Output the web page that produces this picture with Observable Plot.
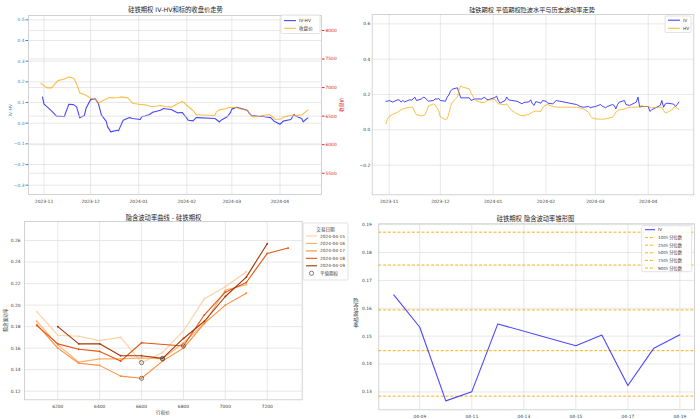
<!DOCTYPE html>
<html><head><meta charset="utf-8">
<script src="https://cdn.jsdelivr.net/npm/d3@7"></script>
<script src="https://cdn.jsdelivr.net/npm/@observablehq/plot@0.6"></script>
<style>
body{margin:0;background:#fff;}
#root{position:relative;width:700px;height:419px;overflow:hidden;background:#fff;}
</style>
</head><body><div id="root"></div>
<script>
// ---------- Panel 1: IV-HV and underlying close ----------
const ivhvDates = ["2023-10-31","2023-11-01","2023-11-03","2023-11-06","2023-11-09","2023-11-13","2023-11-14","2023-11-17","2023-11-20","2023-11-22","2023-11-24","2023-11-27","2023-11-28",
 "2023-12-01","2023-12-04","2023-12-06","2023-12-08","2023-12-11","2023-12-12","2023-12-14","2023-12-18","2023-12-19","2023-12-21","2023-12-22","2023-12-26","2023-12-28",
 "2024-01-02","2024-01-03","2024-01-05","2024-01-08","2024-01-10","2024-01-15","2024-01-17","2024-01-19","2024-01-22","2024-01-24","2024-01-26","2024-01-29","2024-01-30",
 "2024-02-01","2024-02-02","2024-02-05","2024-02-07","2024-02-08","2024-02-19","2024-02-20","2024-02-22","2024-02-23","2024-02-27","2024-02-29",
 "2024-03-01","2024-03-04","2024-03-07","2024-03-11","2024-03-12","2024-03-14","2024-03-15","2024-03-19","2024-03-21","2024-03-22","2024-03-26","2024-03-28",
 "2024-04-01","2024-04-02","2024-04-03","2024-04-08","2024-04-10","2024-04-11","2024-04-15","2024-04-16","2024-04-17","2024-04-19"];
const ivhvValues = [0.127,0.092,0.079,0.058,0.034,0.032,0.031,0.092,0.090,0.079,0.026,0.037,0.071,
 0.114,0.118,0.095,0.039,0.010,-0.018,-0.042,-0.034,-0.037,-0.002,0.014,0.027,0.023,
 0.018,0.031,0.035,0.042,0.053,0.063,0.071,0.069,0.066,0.058,0.050,0.052,0.043,
 0.024,0.014,0.011,0.027,0.027,0.023,0.018,0.006,0.014,0.031,0.050,
 0.068,0.077,0.071,0.063,0.050,0.034,0.037,0.032,0.034,0.031,0.027,0.011,
 -0.005,0.002,0.010,0.018,0.042,0.035,0.023,0.006,0.014,0.026];
const priceDates = ["2023-10-30","2023-11-01","2023-11-03","2023-11-06","2023-11-08","2023-11-10","2023-11-14","2023-11-17","2023-11-20","2023-11-21","2023-11-23","2023-11-24","2023-11-27","2023-11-29",
 "2023-12-01","2023-12-04","2023-12-06","2023-12-08","2023-12-11","2023-12-13","2023-12-15","2023-12-19","2023-12-21","2023-12-25","2023-12-26","2023-12-28",
 "2024-01-02","2024-01-03","2024-01-05","2024-01-09","2024-01-12","2024-01-15","2024-01-18","2024-01-22","2024-01-25","2024-01-29","2024-01-30",
 "2024-02-01","2024-02-05","2024-02-07","2024-02-08","2024-02-19","2024-02-20","2024-02-22","2024-02-26","2024-02-28",
 "2024-03-04","2024-03-06","2024-03-11","2024-03-13","2024-03-15","2024-03-18","2024-03-21","2024-03-25","2024-03-27","2024-03-29",
 "2024-04-02","2024-04-03","2024-04-08","2024-04-10","2024-04-12","2024-04-15","2024-04-17","2024-04-19"];
const priceValues = [7076,7035,6994,6994,7064,7122,7151,7186,7169,7122,6994,6907,6878,6849,
 6814,6791,6727,6756,6802,6826,6820,6826,6837,6820,6791,6727,
 6703,6703,6698,6669,6674,6686,6669,6657,6703,6756,6744,
 6686,6599,6523,6523,6512,6570,6610,6628,6651,
 6651,6628,6599,6529,6483,6494,6512,6529,6494,6442,
 6453,6483,6512,6512,6512,6523,6564,6610];
const monthTicks = ["2023-11-01","2023-12-01","2024-01-01","2024-02-01","2024-03-01","2024-04-01"];
const ivhvTicks = [-0.3,-0.2,-0.1,0,0.1,0.2,0.3,0.4,0.5];
const priceTicks = [5500,6000,6500,7000,7500,8000];

// ---------- Panel 2: ATM IV vs HV ----------
const ivDates = ["2023-10-30","2023-10-31","2023-11-01","2023-11-03","2023-11-06","2023-11-07","2023-11-08","2023-11-09","2023-11-10","2023-11-13","2023-11-14","2023-11-15","2023-11-16","2023-11-17","2023-11-20","2023-11-21","2023-11-22","2023-11-24","2023-11-27","2023-11-28","2023-11-29","2023-11-30",
 "2023-12-01","2023-12-04","2023-12-05","2023-12-06","2023-12-07","2023-12-08","2023-12-11","2023-12-12","2023-12-13","2023-12-15","2023-12-18","2023-12-19","2023-12-21","2023-12-22","2023-12-25","2023-12-27","2023-12-28","2023-12-29",
 "2024-01-02","2024-01-03","2024-01-04","2024-01-05","2024-01-08","2024-01-09","2024-01-10","2024-01-12","2024-01-15","2024-01-16","2024-01-18","2024-01-19","2024-01-22","2024-01-23","2024-01-24","2024-01-25","2024-01-26","2024-01-29","2024-01-30",
 "2024-02-01","2024-02-02","2024-02-05","2024-02-07","2024-02-08","2024-02-19","2024-02-21","2024-02-23","2024-02-26","2024-02-27","2024-02-28",
 "2024-03-01","2024-03-04","2024-03-05","2024-03-07","2024-03-08","2024-03-11","2024-03-12","2024-03-13","2024-03-14","2024-03-15","2024-03-18","2024-03-19","2024-03-21","2024-03-22","2024-03-25","2024-03-26","2024-03-27","2024-03-28","2024-03-29",
 "2024-04-01","2024-04-02","2024-04-03","2024-04-08","2024-04-09","2024-04-10","2024-04-11","2024-04-12","2024-04-15","2024-04-16","2024-04-17","2024-04-18","2024-04-19"];
const ivValues = [0.162,0.162,0.166,0.157,0.170,0.168,0.157,0.166,0.158,0.170,0.168,0.174,0.185,0.166,0.175,0.185,0.181,0.162,0.166,0.175,0.174,0.177,
 0.166,0.162,0.185,0.198,0.219,0.230,0.238,0.208,0.181,0.181,0.181,0.166,0.174,0.175,0.174,0.185,0.174,0.170,
 0.183,0.191,0.166,0.151,0.166,0.185,0.170,0.166,0.162,0.157,0.147,0.155,0.158,0.170,0.147,0.138,0.160,0.151,0.166,
 0.162,0.151,0.147,0.166,0.164,0.143,0.132,0.128,0.132,0.125,0.128,
 0.132,0.143,0.134,0.125,0.132,0.143,0.138,0.119,0.143,0.157,0.166,0.143,0.138,0.142,0.157,0.185,0.128,0.132,0.132,
 0.132,0.104,0.113,0.138,0.166,0.128,0.147,0.151,0.147,0.145,0.132,0.143,0.157];
const hvDates = ["2023-10-30","2023-10-31","2023-11-01","2023-11-03","2023-11-06","2023-11-09","2023-11-13","2023-11-14","2023-11-15","2023-11-16","2023-11-17","2023-11-20","2023-11-22","2023-11-23","2023-11-24","2023-11-27","2023-11-28","2023-11-30",
 "2023-12-01","2023-12-04","2023-12-05","2023-12-06","2023-12-07","2023-12-08","2023-12-11","2023-12-12","2023-12-13","2023-12-14","2023-12-18","2023-12-19","2023-12-21","2023-12-22","2023-12-25","2023-12-27","2023-12-28","2023-12-29",
 "2024-01-02","2024-01-03","2024-01-04","2024-01-08","2024-01-09","2024-01-10","2024-01-12","2024-01-15","2024-01-17","2024-01-19","2024-01-22","2024-01-24","2024-01-26","2024-01-29","2024-01-30","2024-01-31",
 "2024-02-02","2024-02-05","2024-02-08","2024-02-19","2024-02-23","2024-02-26","2024-02-27","2024-02-28",
 "2024-03-01","2024-03-04","2024-03-05","2024-03-07","2024-03-11","2024-03-12","2024-03-13","2024-03-15","2024-03-18","2024-03-20","2024-03-22","2024-03-25","2024-03-27","2024-03-28","2024-03-29",
 "2024-04-01","2024-04-02","2024-04-03","2024-04-08","2024-04-09","2024-04-10","2024-04-11","2024-04-12","2024-04-15","2024-04-16","2024-04-17","2024-04-18","2024-04-19"];
const hvValues = [0.034,0.062,0.075,0.087,0.100,0.119,0.128,0.128,0.125,0.100,0.085,0.079,0.085,0.109,0.134,0.147,0.140,0.109,
 0.072,0.058,0.062,0.094,0.132,0.157,0.185,0.226,0.249,0.242,0.232,0.208,0.175,0.166,0.155,0.155,0.162,0.168,
 0.172,0.160,0.147,0.142,0.147,0.132,0.109,0.091,0.081,0.081,0.087,0.100,0.106,0.104,0.123,0.136,
 0.143,0.132,0.128,0.128,0.119,0.100,0.081,0.068,
 0.062,0.060,0.060,0.062,0.072,0.081,0.100,0.113,0.117,0.125,0.128,0.128,0.132,0.138,0.132,
 0.132,0.128,0.125,0.128,0.128,0.109,0.096,0.098,0.113,0.128,0.132,0.123,0.115];
const volTicks = [-0.2,0,0.2,0.4,0.6];

// ---------- Panel 3: IV smile ----------
const strikes = [6100,6200,6300,6400,6500,6600,6700,6800,6900,7000,7100,7200,7300];
const smileDates = ["2024-04-15","2024-04-16","2024-04-17","2024-04-18","2024-04-19"];
const smile0415 = [0.194,0.172,0.171,0.167,0.170,0.1465,0.156,0.176,0.206,0.217,0.231,null,null];
const smile0416 = [0.185,0.163,0.147,0.150,0.150,0.151,0.150,0.165,0.183,0.214,0.219,null,null];
const smile0417 = [0.182,0.160,0.146,0.144,0.134,0.132,0.148,0.160,0.183,0.200,0.211,null,null];
const smile0418 = [0.181,0.164,0.159,0.157,0.148,0.165,null,0.162,0.191,0.212,0.221,0.248,0.253];
const smile0419 = [null,0.180,0.164,0.164,0.153,0.153,0.1505,0.169,0.185,0.208,0.226,0.257,null];
const atmStrikes = [6600,6700,6600,6800,6700];
const atmIV = [0.1465,0.150,0.132,0.162,0.1505];
const smileColors = ["#fdd0a2","#fdae6b","#fd8d3c","#e6550d","#a63603"];
const strikeTicks = [6200,6400,6600,6800,7000,7200];
const smileTicks = [0.12,0.14,0.16,0.18,0.20,0.22,0.24,0.26];

// ---------- Panel 4: IV cone ----------
const coneDates = ["2024-04-08","2024-04-09","2024-04-10","2024-04-11","2024-04-12","2024-04-15","2024-04-16","2024-04-17","2024-04-18","2024-04-19"];
const coneIV = [0.1648,0.1532,0.1268,0.1301,0.1544,0.1466,0.1504,0.1323,0.1457,0.1505];
const quantileNames = ["10th 分位数","25th 分位数","50th 分位数","75th 分位数","90th 分位数"];
const quantileValues = [0.1285,0.1448,0.1594,0.1755,0.1873];
const coneTicks = ["2024-04-09","2024-04-11","2024-04-13","2024-04-15","2024-04-17","2024-04-19"];
const coneYTicks = [0.13,0.14,0.15,0.16,0.17,0.18,0.19];

// ---------- helpers ----------
const FONT = '"DejaVu Sans","Noto Sans CJK SC",sans-serif';
const GRID = "#dddddd", FRAME = "#c8c8c8", TXT = "#3a3a3a", FS = 4.4;
const root = document.getElementById("root");
const D = s => new Date(s + "T00:00:00Z");
const baseStyle = {fontFamily: FONT, fontSize: FS + "px", background: "transparent", overflow: "visible", color: TXT};
function add(node, left, top) {
  node.style.position = "absolute"; node.style.left = left + "px"; node.style.top = top + "px";
  node.style.maxWidth = "none";
  root.appendChild(node);
}
const grid = {stroke: GRID, strokeOpacity: 1, strokeWidth: 0.7};

// Panel 1
const timeDomain = [new Date("2023-10-22T00:00:00Z"), new Date("2024-04-27T18:00:00Z")];
const ivhvRows = ivhvDates.map((d, i) => ({date: D(d), v: ivhvValues[i]}));
const priceRows = priceDates.map((d, i) => ({date: D(d), v: priceValues[i]}));
const mTicks = monthTicks.map(D);
const p1dims = {width: 350, height: 205, marginLeft: 28, marginRight: 29, marginTop: 15, marginBottom: 11};
const p1 = Plot.plot({
  ...p1dims, style: baseStyle,
  x: {type: "utc", domain: timeDomain},
  y: {domain: [-0.345, 0.521]},
  marks: [
    Plot.gridX(mTicks, grid),
    Plot.gridY(ivhvTicks, grid),
    Plot.frame({stroke: FRAME, strokeWidth: 0.8}),
    Plot.line(ivhvRows, {x: "date", y: "v", stroke: "blue", strokeOpacity: 0.72, strokeWidth: 1.1}),
    Plot.axisY(ivhvTicks, {tickFormat: ".1f", color: "#3f7fc0", tickSize: 2.5, tickPadding: 1.5, fontSize: FS, label: null}),
    Plot.axisX(mTicks, {tickFormat: "%Y-%m", tickSize: 0, tickPadding: 5, fontSize: FS, label: null, color: TXT})
  ]
});
add(p1, 0, 0);
const p1b = Plot.plot({
  ...p1dims, style: baseStyle,
  x: {type: "utc", domain: timeDomain, axis: null},
  y: {domain: [5128, 8262]},
  marks: [
    Plot.gridY(priceTicks, grid),
    Plot.line(priceRows, {x: "date", y: "v", stroke: "orange", strokeOpacity: 0.72, strokeWidth: 1.1}),
    Plot.axisY(priceTicks, {anchor: "right", tickFormat: "d", color: "#d62728", tickSize: 2.5, tickPadding: 1.5, fontSize: FS, label: null})
  ]
});
add(p1b, 0, 0);

// Panel 2
const ivRows = ivDates.map((d, i) => ({date: D(d), v: ivValues[i]}));
const hvRows = hvDates.map((d, i) => ({date: D(d), v: hvValues[i]}));
const p2 = Plot.plot({
  width: 350, height: 205, marginLeft: 21.7, marginRight: 6.7, marginTop: 14, marginBottom: 10.7,
  style: baseStyle,
  x: {type: "utc", domain: timeDomain},
  y: {domain: [-0.368, 0.653]},
  marks: [
    Plot.gridX(mTicks, grid),
    Plot.gridY(volTicks, grid),
    Plot.frame({stroke: FRAME, strokeWidth: 0.8}),
    Plot.line(ivRows, {x: "date", y: "v", stroke: "blue", strokeOpacity: 0.72, strokeWidth: 1.0}),
    Plot.line(hvRows, {x: "date", y: "v", stroke: "orange", strokeOpacity: 0.72, strokeWidth: 1.0}),
    Plot.axisY(volTicks, {tickFormat: ".1f", tickSize: 0, tickPadding: 2, fontSize: FS, label: null, color: TXT}),
    Plot.axisX(mTicks, {tickFormat: "%Y-%m", tickSize: 0, tickPadding: 5, fontSize: FS, label: null, color: TXT})
  ]
});
add(p2, 350, 0);

// Panel 3
const smileSeries = [smile0415, smile0416, smile0417, smile0418, smile0419];
const smileRows = [];
smileSeries.forEach((arr, k) => arr.forEach((v, i) => { if (v != null) smileRows.push({date: smileDates[k], strike: strikes[i], iv: v}); }));
const atmRows = smileDates.map((d, i) => ({date: d, strike: atmStrikes[i], iv: atmIV[i]}));
const p3 = Plot.plot({
  width: 350, height: 214, marginLeft: 24, marginRight: 48.3, marginTop: 16, marginBottom: 19.7,
  style: baseStyle,
  x: {domain: [6041, 7367]},
  y: {domain: [0.112, 0.2777]},
  color: {domain: smileDates, range: smileColors},
  marks: [
    Plot.gridX(strikeTicks, grid),
    Plot.gridY(smileTicks, grid),
    Plot.frame({stroke: FRAME, strokeWidth: 0.8}),
    Plot.line(smileRows, {x: "strike", y: "iv", z: "date", stroke: "date", strokeWidth: 1.1}),
    Plot.dot(smileRows, {x: "strike", y: "iv", fill: "date", r: 0.9}),
    Plot.dot(atmRows, {x: "strike", y: "iv", r: 2.1, stroke: "#4a4a4a", strokeWidth: 0.7, fill: "none"}),
    Plot.axisY(smileTicks, {tickFormat: ".2f", tickSize: 0, tickPadding: 4, fontSize: FS, label: null, color: TXT}),
    Plot.axisX(strikeTicks, {tickFormat: "d", tickSize: 0, tickPadding: 5, fontSize: FS, label: null, color: TXT})
  ]
});
add(p3, 0, 205);

// Panel 4
const coneRows = coneDates.map((d, i) => ({date: D(d), v: coneIV[i]}));
const cTicks = coneTicks.map(D);
const p4 = Plot.plot({
  width: 350, height: 214, marginLeft: 28.3, marginRight: 6, marginTop: 18.3, marginBottom: 9.7,
  style: baseStyle,
  x: {type: "utc", domain: [new Date("2024-04-07T10:10:00Z"), new Date("2024-04-19T13:30:00Z")]},
  y: {domain: [0.1236, 0.1903]},
  marks: [
    Plot.gridX(cTicks, grid),
    Plot.gridY(coneYTicks, grid),
    Plot.frame({stroke: FRAME, strokeWidth: 0.8}),
    Plot.ruleY(quantileValues, {stroke: "#f2a900", strokeWidth: 0.9, strokeDasharray: "3,1.8"}),
    Plot.line(coneRows, {x: "date", y: "v", stroke: "blue", strokeOpacity: 0.72, strokeWidth: 1.1}),
    Plot.axisY(coneYTicks, {tickFormat: ".2f", tickSize: 0, tickPadding: 7, fontSize: FS, label: null, color: TXT}),
    Plot.axisX(cTicks, {tickFormat: "%m-%d", tickSize: 0, tickPadding: 5, fontSize: FS, label: null, color: TXT})
  ]
});
add(p4, 350, 205);

// ---------- overlay: titles, axis labels, legends ----------
const ov = d3.create("svg").attr("width", 700).attr("height", 419)
  .style("position", "absolute").style("left", "0px").style("top", "0px")
  .style("font-family", FONT);
function text(x, y, s, o = {}) {
  const t = ov.append("text").attr("x", x).attr("y", y).text(s)
    .attr("font-size", o.size || FS).attr("fill", o.fill || TXT)
    .attr("text-anchor", o.anchor || "middle").attr("dominant-baseline", "central");
  if (o.rotate) t.attr("transform", `rotate(${o.rotate},${x},${y})`);
  return t;
}
text(175.5, 9.2, "硅铁期权 IV-HV和标的收盘价走势", {size: 6.3, fill: "#222"});
text(532, 9.2, "硅铁期权 平值期权隐波水平与历史波动率走势", {size: 6.2, fill: "#222"});
text(163.5, 217, "隐含波动率曲线 - 硅铁期权", {size: 6.3, fill: "#222"});
text(535.5, 218.3, "硅铁期权 隐含波动率锥形图", {size: 6.3, fill: "#222"});

text(10.5, 110, "IV-HV", {size: 4.6, fill: "#3f7fc0", rotate: -90});
text(341, 105, "收盘价", {size: 4.8, fill: "#d62728", rotate: -90});
text(5, 320, "隐含波动率", {size: 4.6, rotate: -90});
text(163, 412, "行权价", {size: 4.6});
["隐","含","波","动","率"].forEach((c, i) => text(356, 301 + i * 6, c, {size: 5.4}));

function legendBox(x, y, w, h) {
  ov.append("rect").attr("x", x).attr("y", y).attr("width", w).attr("height", h).attr("rx", 1.2)
    .attr("fill", "white").attr("fill-opacity", 0.85).attr("stroke", "#d0d0d0").attr("stroke-width", 0.6);
}
function legendLine(x1, x2, y, color, o = {}) {
  ov.append("line").attr("x1", x1).attr("x2", x2).attr("y1", y).attr("y2", y)
    .attr("stroke", color).attr("stroke-width", o.w || 1.1).attr("stroke-opacity", o.op || 1)
    .attr("stroke-dasharray", o.dash || null);
}
// Panel 1 legend
legendBox(281, 15, 39, 18.5);
legendLine(284, 296, 20.6, "blue", {op: 0.72});
text(299, 20.6, "IV-HV", {anchor: "start", size: 4.4});
legendLine(284, 296, 28.3, "orange", {op: 0.72});
text(299, 28.3, "收盘价", {anchor: "start", size: 4.6});
// Panel 2 legend
legendBox(665, 16, 26, 16.5);
legendLine(668, 680, 20.2, "blue", {op: 0.72});
text(683, 20.2, "IV", {anchor: "start", size: 4.4});
legendLine(668, 680, 28.3, "orange", {op: 0.72});
text(683, 28.3, "HV", {anchor: "start", size: 4.4});
// Panel 3 legend
legendBox(303, 223, 45, 57);
text(325.5, 229, "交易日期", {size: 4.6});
smileDates.forEach((d, i) => {
  const y = 236 + i * 7.45;
  legendLine(306, 317, y, smileColors[i]);
  text(320, y, d, {anchor: "start", size: 4.3});
});
ov.append("circle").attr("cx", 311.5).attr("cy", 273.3).attr("r", 2.1).attr("fill", "none").attr("stroke", "#4a4a4a").attr("stroke-width", 0.7);
text(320, 273.3, "平值期权", {anchor: "start", size: 4.5});
// Panel 4 legend
legendBox(641.7, 225.7, 50, 46);
legendLine(645, 655, 229.7, "blue", {op: 0.72});
text(658, 229.7, "IV", {anchor: "start", size: 4.3});
quantileNames.forEach((q, i) => {
  const y = 237.6 + i * 7.6;
  legendLine(645, 655, y, "#f2a900", {w: 0.9, dash: "3,1.8"});
  text(658, y, q, {anchor: "start", size: 4.3});
});
root.appendChild(ov.node());
</script>
</body></html>
